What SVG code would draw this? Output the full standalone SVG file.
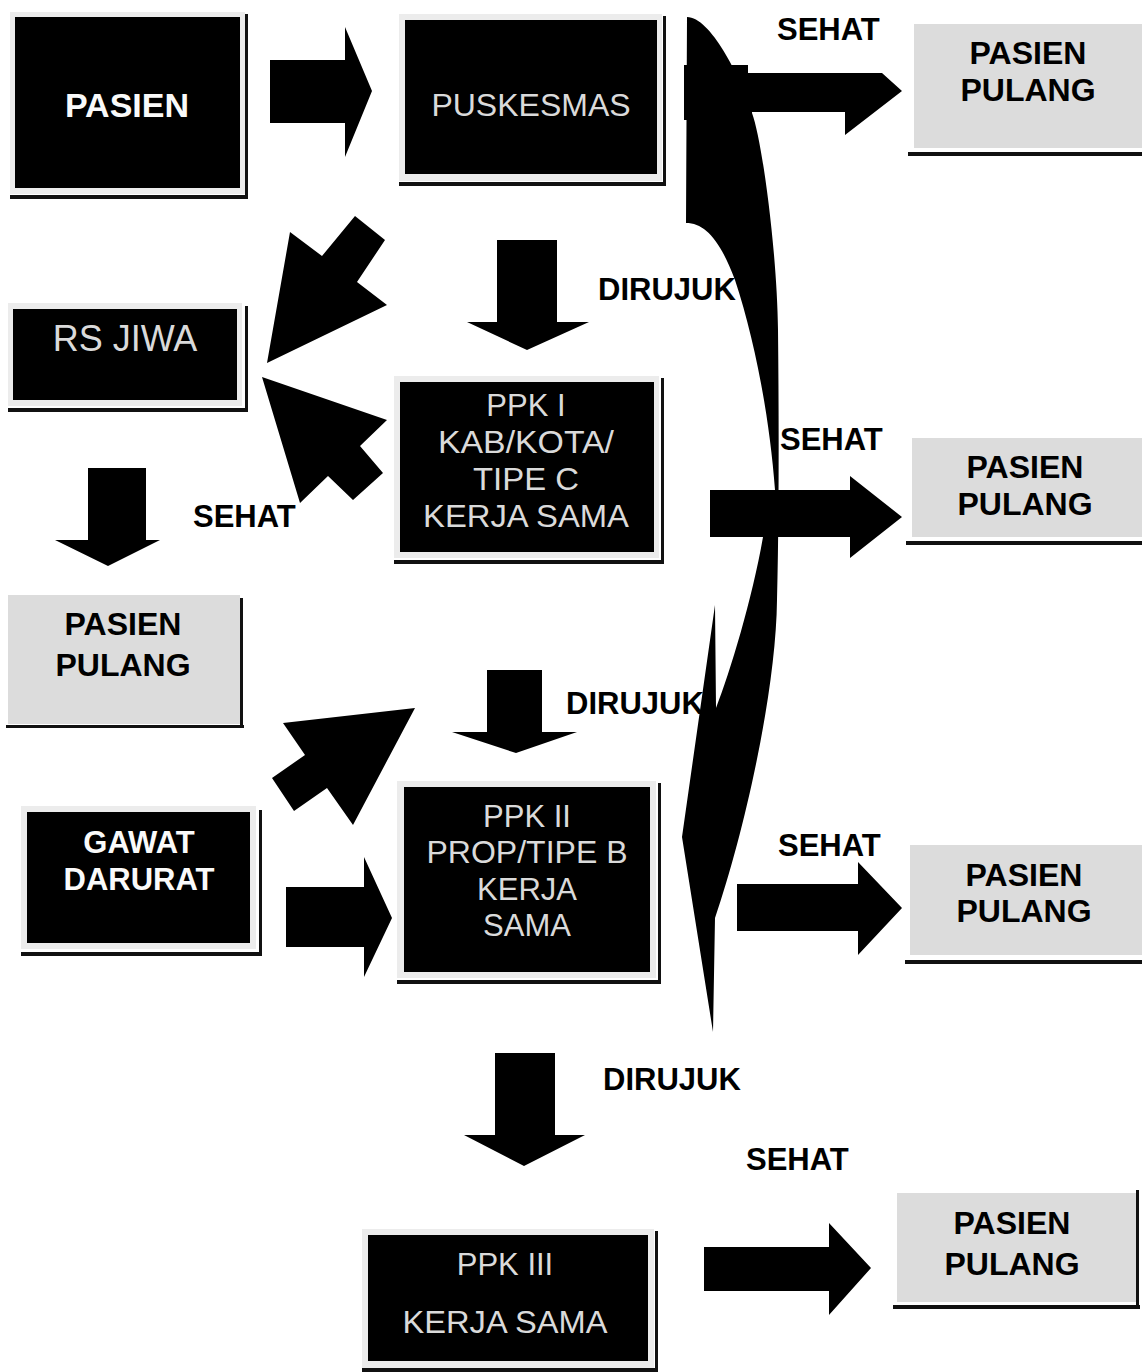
<svg xmlns="http://www.w3.org/2000/svg" width="1142" height="1372" viewBox="0 0 1142 1372">
<style>
.frame{fill:#ececec}
.blk{fill:#000}
.shd{fill:#111}
.gray{fill:#dcdcdc}
.arrow{fill:#000}
.tb{font-family:"Liberation Sans",Arial,sans-serif;font-size:31px;fill:#dadada;text-anchor:middle}
.tw{font-family:"Liberation Sans",Arial,sans-serif;font-size:31px;font-weight:bold;fill:#fafafa;text-anchor:middle}
.tp{font-family:"Liberation Sans",Arial,sans-serif;font-size:32px;font-weight:bold;fill:#000;text-anchor:middle}
.tl{font-family:"Liberation Sans",Arial,sans-serif;font-size:31px;font-weight:bold;fill:#000}
</style>
<rect width="1142" height="1372" fill="#fff"/>

<g id="connectors">
  <polygon class="arrow" points="270,60 345,60 345,27 372,91 345,157 345,123 270,123"/>
  <polygon class="arrow" points="684,65 748,65 748,73 882,73 902,91 845,135 845,112 752,112 752,120 684,120"/>
  <polygon class="arrow" points="497,240 557,240 557,322 589,322 527,350 467,322 497,322"/>
  <polygon class="arrow" points="267,363 290,232 322,256 355,216 385,240 357,282 387,305"/>
  <polygon class="arrow" points="262,377 387,420 360,446 383,473 353,500 328,476 300,503"/>
  <polygon class="arrow" points="88,468 146,468 146,540 160,540 108,566 55,540 88,540"/>
  <polygon class="arrow" points="710,490 850,490 850,476 902,517 850,558 850,537 710,537"/>
  <polygon class="arrow" points="415,708 283,723 305,755 272,778 294,811 327,788 353,825"/>
  <polygon class="arrow" points="487,670 542,670 542,732 577,732 516,753 452,732 487,732"/>
  <polygon class="arrow" points="286,887 364,887 364,857 392,918 364,977 364,947 286,947"/>
  <polygon class="arrow" points="737,884 858,884 858,862 902,908 858,955 858,931 737,931"/>
  <polygon class="arrow" points="495,1053 555,1053 555,1135 585,1135 524,1166 464,1135 495,1135"/>
  <polygon class="arrow" points="704,1247 829,1247 829,1223 871,1268 829,1315 829,1291 704,1291"/>
  <path class="arrow" d="M687,17 C710,17 740,75 752,113 C762,140 777,250 778,330 C779,420 779,520 777,600 C776,690 745,830 715,918 L713,1032 L682,837 L715,605 L716,708 C730,672 752,600 763,537 L775,490 C770,420 755,340 735,280 C720,240 705,223 686,223 Z"/>
</g>

<g id="labels">
  <text class="tl" x="777" y="40">SEHAT</text>
  <text class="tl" x="598" y="300">DIRUJUK</text>
  <text class="tl" x="780" y="450">SEHAT</text>
  <text class="tl" x="193" y="527">SEHAT</text>
  <text class="tl" x="566" y="714">DIRUJUK</text>
  <text class="tl" x="778" y="856">SEHAT</text>
  <text class="tl" x="603" y="1090">DIRUJUK</text>
  <text class="tl" x="746" y="1170">SEHAT</text>
</g>

<g id="node-pasien">
  <rect class="frame" x="10" y="12" width="235" height="182"/>
  <rect class="blk" x="15" y="17" width="225" height="171"/>
  <rect class="shd" x="10" y="195" width="238" height="4"/>
  <rect class="shd" x="245" y="14" width="3" height="185"/>
  <text class="tw" x="127" y="117" style="font-size:34px">PASIEN</text>
</g>

<g id="node-puskesmas">
  <rect class="frame" x="399" y="14" width="263" height="167"/>
  <rect class="blk" x="405" y="20" width="252" height="154"/>
  <rect class="shd" x="399" y="182" width="267" height="4"/>
  <rect class="shd" x="663" y="16" width="3" height="170"/>
  <text class="tb" x="531" y="116" style="font-size:32px">PUSKESMAS</text>
</g>

<g id="node-rsjiwa">
  <rect class="frame" x="8" y="303" width="234" height="103"/>
  <rect class="blk" x="13" y="309" width="224" height="91"/>
  <rect class="shd" x="8" y="408" width="240" height="4"/>
  <rect class="shd" x="245" y="306" width="3" height="106"/>
  <text class="tb" x="125" y="351" style="font-size:36px">RS JIWA</text>
</g>

<g id="node-ppk1">
  <rect class="frame" x="394" y="376" width="265" height="182"/>
  <rect class="blk" x="400" y="382" width="254" height="170"/>
  <rect class="shd" x="394" y="560" width="270" height="4"/>
  <rect class="shd" x="661" y="378" width="3" height="186"/>
  <text class="tb" x="526" y="416">PPK I</text>
  <text class="tb" x="526" y="453" textLength="176" lengthAdjust="spacingAndGlyphs">KAB/KOTA/</text>
  <text class="tb" x="526" y="490" textLength="106" lengthAdjust="spacingAndGlyphs">TIPE C</text>
  <text class="tb" x="526" y="527" textLength="206" lengthAdjust="spacingAndGlyphs">KERJA SAMA</text>
</g>

<g id="node-pulang-left">
  <rect class="gray" x="8" y="595" width="232" height="129"/>
  <rect class="shd" x="6" y="725" width="238" height="3"/>
  <rect class="shd" x="240" y="598" width="3" height="130"/>
  <text class="tp" x="123" y="635">PASIEN</text>
  <text class="tp" x="123" y="676">PULANG</text>
</g>

<g id="node-gawat">
  <rect class="frame" x="21" y="806" width="235" height="143"/>
  <rect class="blk" x="27" y="812" width="223" height="131"/>
  <rect class="shd" x="21" y="952" width="241" height="4"/>
  <rect class="shd" x="259" y="810" width="3" height="146"/>
  <text class="tw" x="139" y="853">GAWAT</text>
  <text class="tw" x="139" y="890">DARURAT</text>
</g>

<g id="node-ppk2">
  <rect class="frame" x="397" y="781" width="259" height="197"/>
  <rect class="blk" x="404" y="787" width="246" height="185"/>
  <rect class="shd" x="397" y="980" width="264" height="4"/>
  <rect class="shd" x="658" y="783" width="3" height="201"/>
  <text class="tb" x="527" y="827">PPK II</text>
  <text class="tb" x="527" y="863" textLength="201" lengthAdjust="spacingAndGlyphs">PROP/TIPE B</text>
  <text class="tb" x="527" y="900">KERJA</text>
  <text class="tb" x="527" y="936">SAMA</text>
</g>

<g id="node-ppk3">
  <rect class="frame" x="362" y="1229" width="292" height="139"/>
  <rect class="blk" x="368" y="1235" width="280" height="126"/>
  <rect class="shd" x="362" y="1368" width="296" height="4"/>
  <rect class="shd" x="655" y="1231" width="3" height="141"/>
  <text class="tb" x="505" y="1275">PPK III</text>
  <text class="tb" x="505" y="1333" textLength="205" lengthAdjust="spacingAndGlyphs">KERJA SAMA</text>
</g>

<g id="node-pulang-1">
  <rect class="gray" x="914" y="24" width="228" height="124"/>
  <rect class="shd" x="908" y="152" width="234" height="4"/>
  <text class="tp" x="1028" y="64">PASIEN</text>
  <text class="tp" x="1028" y="101">PULANG</text>
</g>

<g id="node-pulang-2">
  <rect class="gray" x="912" y="438" width="230" height="99"/>
  <rect class="shd" x="906" y="541" width="236" height="4"/>
  <text class="tp" x="1025" y="478">PASIEN</text>
  <text class="tp" x="1025" y="515">PULANG</text>
</g>

<g id="node-pulang-3">
  <rect class="gray" x="910" y="845" width="232" height="110"/>
  <rect class="shd" x="905" y="960" width="237" height="4"/>
  <text class="tp" x="1024" y="886">PASIEN</text>
  <text class="tp" x="1024" y="922">PULANG</text>
</g>

<g id="node-pulang-4">
  <rect class="gray" x="897" y="1193" width="239" height="109"/>
  <rect class="shd" x="893" y="1305" width="247" height="4"/>
  <rect class="shd" x="1136" y="1190" width="3" height="119"/>
  <text class="tp" x="1012" y="1234">PASIEN</text>
  <text class="tp" x="1012" y="1275">PULANG</text>
</g>
</svg>
